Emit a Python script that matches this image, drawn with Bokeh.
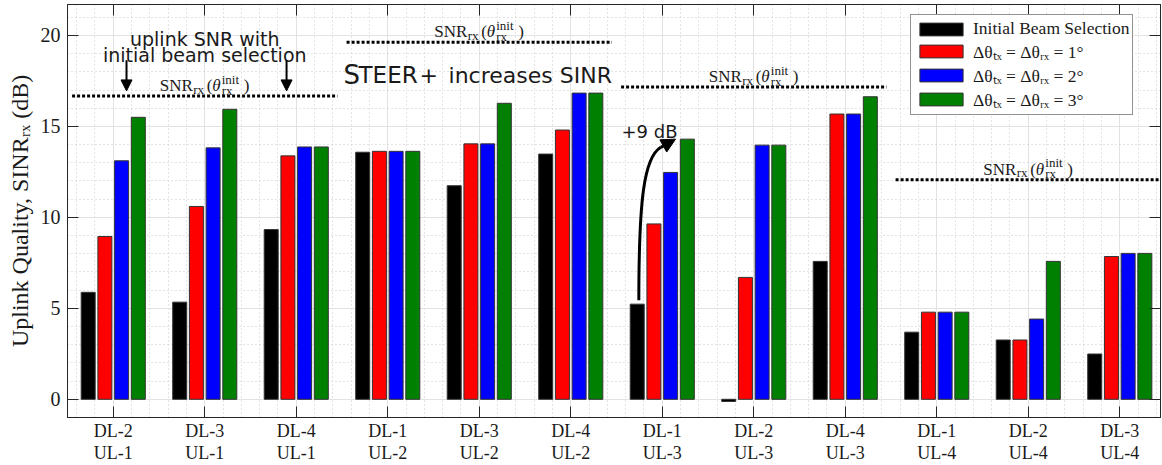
from bokeh.plotting import figure
from bokeh.models import (Range1d, FixedTicker, LinearAxis, Legend, LegendItem,
                          Label, Arrow, NormalHead, ColumnDataSource)
from bokeh.embed import file_html
from bokeh.resources import INLINE

# ---------------- data ----------------
categories = ["DL-2\nUL-1", "DL-3\nUL-1", "DL-4\nUL-1",
              "DL-1\nUL-2", "DL-3\nUL-2", "DL-4\nUL-2",
              "DL-1\nUL-3", "DL-2\nUL-3", "DL-4\nUL-3",
              "DL-1\nUL-4", "DL-2\nUL-4", "DL-3\nUL-4"]
initial_beam = [5.88, 5.34, 9.33, 13.58, 11.74, 13.48, 5.23, -0.12, 7.58, 3.69, 3.26, 2.49]
delta_1deg = [8.95, 10.60, 13.38, 13.63, 14.04, 14.80, 9.64, 6.70, 15.68, 4.79, 3.26, 7.85]
delta_2deg = [13.11, 13.82, 13.87, 13.63, 14.04, 16.83, 12.47, 13.97, 15.68, 4.79, 4.41, 8.02]
delta_3deg = [15.50, 15.94, 13.87, 13.63, 16.27, 16.83, 14.30, 13.97, 16.63, 4.79, 7.58, 8.02]
snr_init = [16.67, 19.62, 17.16, 12.07]          # SNR_rx(theta_rx^init) per UL user
snr_groups = [2, 5, 8, 11]                       # centre group of each UL block
series_labels = ["Initial Beam Selection",
                 "Δθₜₓ = Δθᵣₓ = 1°",
                 "Δθₜₓ = Δθᵣₓ = 2°",
                 "Δθₜₓ = Δθᵣₓ = 3°"]
series_colors = ["#000000", "#ff0000", "#0000ff", "#008000"]
series_values = [initial_beam, delta_1deg, delta_2deg, delta_3deg]

SERIF = "Liberation Serif"
SANS = "DejaVu Sans"
TXT = "#1a1a1a"
AX = "#262626"

groups = list(range(1, len(categories) + 1))

p = figure(width=1162, height=465,
           x_range=Range1d(0.5, 12.445), y_range=Range1d(-1, 21.7),
           output_backend="svg", toolbar_location=None,
           min_border_left=67, min_border_right=2, min_border_top=4, min_border_bottom=46)
p.background_fill_color = "white"
p.border_fill_color = "white"
p.outline_line_color = AX
p.outline_line_width = 1

xt = FixedTicker(ticks=groups,
                 minor_ticks=[round(0.6 + 0.2 * i, 2) for i in range(60) if round(0.6 + 0.2 * i, 2) % 1 != 0])
yt = FixedTicker(ticks=[0, 5, 10, 15, 20],
                 minor_ticks=[v for v in range(-1, 22) if v % 5 != 0])

# bars
pitch = 0.1825
bw = 0.153
renderers = []
for k, (vals, col) in enumerate(zip(series_values, series_colors)):
    off = (k - 1.5) * pitch
    src = ColumnDataSource(dict(x=[g + off for g in groups], top=vals))
    r = p.vbar(x="x", top="top", bottom=0, width=bw, source=src,
               fill_color=col, line_color="#333333", line_width=1)
    renderers.append(r)

# axes
for ax in p.xaxis:
    ax.ticker = xt
    ax.major_label_overrides = {g: c for g, c in zip(groups, categories)}
    ax.major_label_text_font = SERIF
    ax.major_label_text_font_size = "18px"
    ax.major_label_text_line_height = 1.12
    ax.major_label_text_color = TXT
    ax.major_label_standoff = 3
    ax.major_tick_in = 11
    ax.major_tick_out = 0
    ax.minor_tick_in = 0
    ax.minor_tick_out = 0
    ax.axis_line_color = AX
    ax.major_tick_line_color = AX

for ax in p.yaxis:
    ax.ticker = yt
    ax.major_label_text_font = SERIF
    ax.major_label_text_font_size = "20px"
    ax.major_label_text_color = TXT
    ax.major_label_standoff = 7
    ax.major_tick_in = 11
    ax.major_tick_out = 0
    ax.minor_tick_in = 0
    ax.minor_tick_out = 0
    ax.axis_line_color = AX
    ax.major_tick_line_color = AX
    ax.axis_label = "Uplink Quality, SINRᵣₓ (dB)"
    ax.axis_label_text_font = SERIF
    ax.axis_label_text_font_size = "24px"
    ax.axis_label_text_font_style = "normal"
    ax.axis_label_text_color = TXT
    ax.axis_label_standoff = 5

top_ax = LinearAxis(ticker=xt, major_label_text_font_size="0px", major_label_text_color=None,
                    major_label_standoff=0,
                    major_tick_in=11, major_tick_out=0, minor_tick_in=0, minor_tick_out=0,
                    axis_line_color=AX, major_tick_line_color=AX)
p.add_layout(top_ax, "above")
right_ax = LinearAxis(ticker=yt, major_label_text_font_size="0px", major_label_text_color=None,
                      major_label_standoff=0,
                      major_tick_in=11, major_tick_out=0, minor_tick_in=0, minor_tick_out=0,
                      axis_line_color=AX, major_tick_line_color=AX)
p.add_layout(right_ax, "right")

# grids
p.xgrid.ticker = xt
p.ygrid.ticker = yt
for g in (p.xgrid[0], p.ygrid[0]):
    g.grid_line_color = "#e2e2e2"
    g.grid_line_width = 1
    g.minor_grid_line_color = "#c9c9c9"
    g.minor_grid_line_dash = "1 3"
    g.minor_grid_line_width = 1
    g.level = "underlay"

# dotted SNR reference lines
p.segment(x0=[g - 1.45 for g in snr_groups], x1=[g + 1.45 for g in snr_groups],
          y0=snr_init, y1=snr_init, line_color="black", line_width=3, line_dash="3 2")

# SNR_rx(theta_rx^init) labels built from pieces
pieces = [("SNR", 0, 0, "17px", "normal"),
          ("rx", 33.5, -3.5, "13px", "normal"),
          ("(", 47, 0, "17px", "normal"),
          ("θ", 52.5, 0, "17px", "italic"),
          ("init", 62, 6.5, "13px", "normal"),
          ("rx", 62, -4.5, "13px", "normal"),
          (")", 84, 0, "17px", "normal")]
for gx, sy in zip(snr_groups, snr_init):
    for txt, dx, dy, fs, st in pieces:
        p.add_layout(Label(x=gx, y=sy, x_offset=-45 + dx, y_offset=10.5 + dy, text=txt,
                           text_font=SERIF, text_font_size=fs, text_font_style=st,
                           text_color=TXT, text_align="left", text_baseline="alphabetic"))

# "uplink SNR with / initial beam selection"
p.add_layout(Label(x=2.0, y=19.82, text="uplink SNR with", text_font=SANS, text_font_size="19px",
                   text_color=TXT, text_align="center", text_baseline="alphabetic"))
p.add_layout(Label(x=2.0, y=18.91, text="initial beam selection", text_font=SANS, text_font_size="19px",
                   text_color=TXT, text_align="center", text_baseline="alphabetic"))
for ax_x in (1.145, 2.894):
    p.add_layout(Arrow(x_start=ax_x, y_start=18.64, x_end=ax_x, y_end=16.95,
                       line_width=2, line_color="black",
                       end=NormalHead(size=11, fill_color="black", line_color="black")))

# STEER+ increases SINR
steer = [("S", 0, "26px"), ("TEER", 15, "23px"), ("+", 76, "22px"), ("increases SINR", 105, "22px")]
for txt, dx, fs in steer:
    p.add_layout(Label(x=3.517, y=17.82, x_offset=dx, text=txt, text_font=SANS, text_font_size=fs,
                       text_color=TXT, text_align="left", text_baseline="alphabetic"))

# +9 dB curved arrow
p.add_layout(Label(x=6.861, y=14.7, text="+9 dB", text_font=SANS, text_font_size="18px",
                   text_color=TXT, text_align="center", text_baseline="alphabetic"))
p.bezier(x0=[6.744], y0=[5.45], x1=[6.984], y1=[13.85], cx0=[6.744], cy0=[10.97],
         cx1=[6.80], cy1=[13.3], line_color="black", line_width=3)
p.add_layout(Arrow(x_start=6.984, y_start=13.85, x_end=7.145, y_end=14.30, line_width=3,
                   line_color="black",
                   end=NormalHead(size=14, fill_color="black", line_color="black")))

# legend
legend = Legend(items=[LegendItem(label=l, renderers=[r]) for l, r in zip(series_labels, renderers)],
                location=(843, 302), margin=0, padding=3, spacing=0,
                glyph_width=54, glyph_height=16, label_height=16, label_standoff=5,
                label_text_font=SERIF, label_text_font_size="17.5px", label_text_line_height=1.0,
                label_text_color=TXT,
                border_line_color=AX, border_line_width=1,
                background_fill_color="white", background_fill_alpha=1.0)
p.add_layout(legend)

open("out.html", "w").write(file_html(p, INLINE))
